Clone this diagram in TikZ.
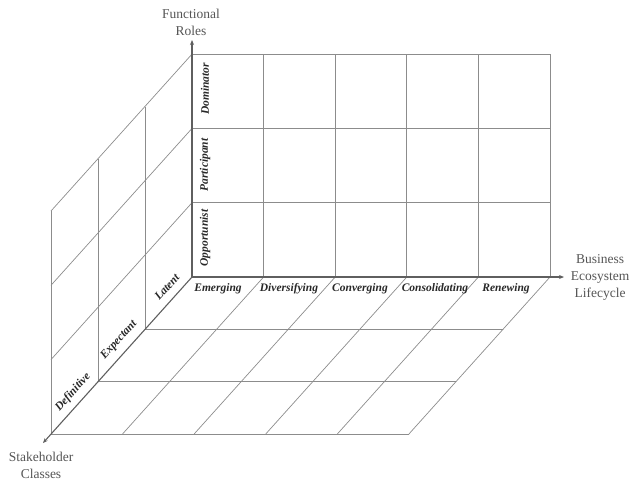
\documentclass[tikz,border=0pt]{standalone}
\usepackage{fontspec}
\setmainfont{Liberation Serif}
\usetikzlibrary{arrows.meta,calc}
\definecolor{gridc}{RGB}{140,140,140}
\definecolor{axisc}{RGB}{95,95,95}
\definecolor{titlec}{RGB}{85,85,85}
\definecolor{labc}{RGB}{40,40,40}
\begin{document}
\begin{tikzpicture}[x=1pt,y=-1pt,
  gridstraight/.style={draw=gridc,line width=0.75pt,dash pattern=on 0.6pt off 0.4pt},
  gridslant/.style={draw=gridc,line width=0.7pt},
  axisline/.style={draw=axisc,line width=1.1pt,-{Stealth[length=5pt,width=4pt]}},
  title/.style={text=titlec,font=\fontsize{13.5}{17}\selectfont,align=center,inner sep=0pt},
  lab/.style={text=labc,font=\fontsize{11.5}{13}\selectfont\bfseries\itshape,inner sep=0pt}]
\useasboundingbox (0,0) rectangle (631,480);
% basis
\coordinate (O) at (192,277);
\coordinate (ex) at (71.6,0);
\coordinate (ey) at (0,-74.3);
\coordinate (ez) at (-47,52.3);
% back wall (width x height)
\foreach \i in {0,...,5}{
  \draw[gridstraight] ($(O)+\i*(ex)$) -- ($(O)+\i*(ex)+3*(ey)$);}
\foreach \j in {1,...,3}{
  \draw[gridstraight] ($(O)+\j*(ey)$) -- ($(O)+5*(ex)+\j*(ey)$);}
% left wall (depth x height)
\foreach \k in {1,...,3}{
  \draw[gridstraight] ($(O)+\k*(ez)$) -- ($(O)+\k*(ez)+3*(ey)$);}
\foreach \j in {1,...,3}{
  \draw[gridslant] ($(O)+\j*(ey)$) -- ($(O)+3*(ez)+\j*(ey)$);}
% floor (width x depth)
\foreach \k in {1,...,3}{
  \draw[gridstraight] ($(O)+\k*(ez)$) -- ($(O)+5*(ex)+\k*(ez)$);}
\foreach \i in {1,...,5}{
  \draw[gridslant] ($(O)+\i*(ex)$) -- ($(O)+\i*(ex)+3*(ez)$);}
% axes
\coordinate (topEnd) at (192,40);
\coordinate (rightEnd) at (564,277);
\coordinate (depthEnd) at (43,443);
\draw[axisline] (O) -- (topEnd);
\draw[axisline] (O) -- (rightEnd);
\draw[axisline] (O) -- (depthEnd);
% axis titles
\node[title] (tFR) at (191,22) {Functional\\Roles};
\node[title] (tSC) at (41,465) {Stakeholder\\Classes};
\node[title] (tBE) at (600,277) {Business\\Ecosystem\\Lifecycle};
% functional roles
\node[lab,rotate=90] (lDom) at (205,89) {Dominator};
\node[lab,rotate=90] (lPar) at (205,165) {Participant};
\node[lab,rotate=90] (lOpp) at (205,238) {Opportunist};
% lifecycle
\node[lab] (lEme) at (218,289) {Emerging};
\node[lab] (lDiv) at (289,289) {Diversifying};
\node[lab] (lCon) at (360,289) {Converging};
\node[lab] (lCos) at (435,289) {Consolidating};
\node[lab] (lRen) at (506,289) {Renewing};
% stakeholder classes
\node[lab,rotate=48] (lLat) at (167,287) {Latent};
\node[lab,rotate=48] (lExp) at (119,340) {Expectant};
\node[lab,rotate=48] (lDef) at (73,392) {Definitive};
\end{tikzpicture}
\end{document}
